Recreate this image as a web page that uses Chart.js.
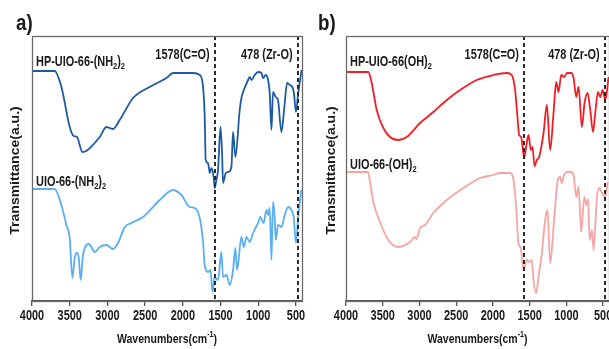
<!DOCTYPE html>
<html><head><meta charset="utf-8">
<script src="https://cdn.jsdelivr.net/npm/chart.js@4.4.1/dist/chart.umd.min.js"></script>
<style>
html,body{margin:0;padding:0;background:#fff;overflow:hidden;width:609px;height:349px;position:relative}
canvas{position:absolute;top:0}
#ca{left:0}
#cb{left:300px}
</style></head><body>
<canvas id="ca" width="330" height="349"></canvas>
<canvas id="cb" width="330" height="349"></canvas>
<script>
// ---- data ----
const tickValues = [4000, 3500, 3000, 2500, 2000, 1500, 1000, 500];
const markerWaves = [1578, 478];
const markerLabels = ['1578(C=O)', '478 (Zr-O)'];
const panelLetters = ['a)', 'b)'];
const xTitle = 'Wavenumbers(cm^{-1})';
const yTitle = 'Transmittance(a.u.)';
const seriesNamesA = ['HP-UIO-66-(NH_{2})_{2}', 'UIO-66-(NH_{2})_{2}'];
const seriesNamesB = ['HP-UIO-66(OH)_{2}', 'UIO-66-(OH)_{2}'];

const hpNH2Wave = [4000,3700,3610,3500,3447,3403,3332,3280,3102,3013,2970,2926,2837,2660,2440,2218,2130,1865,1776,1732,1710,1697,1666,1643,1620,1590,1577,1555,1533,1501,1480,1467,1431,1400,1356,1334,1303,1246,1223,1191,1135,1113,1090,1047,1003,958,936,900,870,848,825,804,768,738,693,649,618,584,548,527,500,470,425];
const hpNH2T    = [230,230,214,174,165,164,149,150,164,174,173,172,181,203,214,223,228,228,226,214,184,141,138,128,133,123,113,121,131,174,148,118,128,129,134,169,144,191,203,211,221,224,221,226,229,228,223,226,221,208,171,209,204,201,169,198,218,216,214,208,189,208,231];

const uioNH2Wave = [4000,3700,3610,3544,3500,3464,3434,3403,3380,3354,3324,3244,3168,3102,3013,2926,2859,2770,2682,2528,2306,2130,2019,1909,1843,1776,1732,1710,1666,1634,1607,1600,1577,1533,1489,1467,1422,1378,1334,1303,1281,1223,1191,1156,1113,1069,1003,972,930,891,870,848,825,804,782,768,738,693,649,605,561,530,500,470,430];
const uioNH2T    = [112,112,96,76,63,23,43,48,43,21,46,57,49,54,56,52,58,74,78,84,101,111,106,94,93,83,59,36,29,31,9,12,24,21,49,24,26,16,31,53,31,64,54,64,59,68,78,84,78,91,86,93,41,99,84,61,76,74,86,94,91,84,58,84,111];

const hpOHWave = [4000,3696,3650,3582,3492,3401,3288,3174,2992,2811,2628,2447,2220,1993,1812,1744,1698,1666,1643,1616,1594,1575,1548,1516,1484,1461,1434,1402,1371,1311,1266,1221,1175,1139,1107,1070,1029,993,934,902,866,834,789,753,711,675,638,607,570,539,507,470,425];
const hpOHT    = [229,229,218,191,173,164,161,164,178,189,201,211,221,226,228,226,211,184,166,164,153,143,154,166,151,154,135,141,144,168,196,151,188,219,209,226,224,228,228,223,204,214,174,198,208,191,169,188,209,204,211,201,224];

const uioOHWave = [4000,3700,3673,3628,3537,3424,3288,3128,3060,3040,2992,2924,2811,2628,2401,2174,1993,1902,1766,1720,1684,1653,1621,1584,1560,1539,1505,1471,1448,1411,1380,1334,1289,1257,1221,1185,1153,1117,1085,1062,1030,993,939,902,866,834,798,757,729,705,684,652,630,584,548,516,470,439];
const uioOHT    = [129,129,119,99,79,61,54,59,64,62,73,76,88,101,113,123,126,128,128,121,94,58,53,31,36,41,39,41,21,8,24,48,81,91,38,64,94,121,124,118,126,129,129,126,104,114,69,104,96,102,61,71,51,104,113,108,104,119];

// ---- helpers ----
const FAMILY = "'Liberation Sans',Arial,sans-serif";
const TEXT = '#1a1a1a';
const SQ = 0.78; // horizontal squeeze of the figure's lettering

function toPoints(w, t) { return w.map((x, i) => ({ x: x, y: t[i] })); }

function parseRich(s) {
  const parts = []; const re = /([_^])\{([^}]*)\}/g; let last = 0, m;
  while ((m = re.exec(s))) {
    if (m.index > last) parts.push({ t: s.slice(last, m.index), k: 0 });
    parts.push({ t: m[2], k: m[1] === '_' ? 1 : -1 });
    last = re.lastIndex;
  }
  if (last < s.length) parts.push({ t: s.slice(last), k: 0 });
  return parts;
}
// draws text with sub/superscripts; sx = horizontal scale, sy = vertical scale
function drawRich(ctx, s, x, y, size, align, sx, sy) {
  sx = sx || 1; sy = sy || 1;
  const parts = parseRich(s);
  const fs = p => p.k ? size * 0.68 : size;
  let w = 0;
  parts.forEach(p => { ctx.font = 'bold ' + fs(p) + 'px ' + FAMILY; p.w = ctx.measureText(p.t).width; w += p.w; });
  ctx.save();
  ctx.translate(x, y); ctx.scale(sx, sy);
  let cx = align === 'center' ? -w / 2 : align === 'right' ? -w : 0;
  ctx.textBaseline = 'middle'; ctx.textAlign = 'left'; ctx.fillStyle = TEXT;
  parts.forEach(p => {
    ctx.font = 'bold ' + fs(p) + 'px ' + FAMILY;
    ctx.fillText(p.t, cx, p.k * size * 0.32);
    cx += p.w;
  });
  ctx.restore();
}

function makePanel(id, series, names, nameYs, letter, letterX, yTitleX, areaLeft, areaRight) {
  const canvas = document.getElementById(id);
  const W = canvas.width;
  const decor = {
    id: 'decor',
    afterDatasetsDraw(chart) {
      const ctx = chart.ctx, a = chart.chartArea, xs = chart.scales.x;
      ctx.save();
      ctx.strokeStyle = '#2a2a2a'; ctx.lineWidth = 2; ctx.setLineDash([4, 3]);
      markerWaves.forEach(v => {
        const px = Math.round(xs.getPixelForValue(v));
        ctx.beginPath(); ctx.moveTo(px, a.top); ctx.lineTo(px, a.bottom); ctx.stroke();
      });
      ctx.setLineDash([]);
      ctx.strokeStyle = '#6a6a6a'; ctx.lineWidth = 1.3;
      ctx.strokeRect(Math.round(a.left) + 0.5, Math.round(a.top) + 0.5, Math.round(a.right - a.left), Math.round(a.bottom - a.top));
      ctx.restore();
    },
    afterDraw(chart) {
      const ctx = chart.ctx, a = chart.chartArea, xs = chart.scales.x;
      ctx.save();
      xs.ticks.forEach(t => drawRich(ctx, String(t.value), xs.getPixelForValue(t.value), a.bottom + 15, 14, 'center', SQ));
      markerWaves.forEach((v, i) => {
        drawRich(ctx, markerLabels[i], xs.getPixelForValue(v) - 5, 55, 14, 'right', SQ);
      });
      names.forEach((n, i) => drawRich(ctx, n, a.left + 4, nameYs[i], 14, 'left', SQ));
      drawRich(ctx, xTitle, (a.left + a.right) / 2, 339, 13.5, 'center', SQ);
      ctx.save(); ctx.translate(yTitleX, (a.top + a.bottom) / 2 + 2); ctx.rotate(-Math.PI / 2);
      drawRich(ctx, yTitle, 0, 0, 14, 'center', 1, 0.85); ctx.restore();
      drawRich(ctx, letter, letterX, 24, 22, 'left', 0.85);
      ctx.restore();
    }
  };
  return new Chart(canvas, {
    type: 'line',
    data: {
      datasets: series.map(s => ({
        data: toPoints(s.w, s.t), borderColor: s.color, borderWidth: 1.8,
        pointRadius: 0, fill: false, cubicInterpolationMode: 'monotone'
      }))
    },
    options: {
      responsive: false, animation: false, devicePixelRatio: 1,
      layout: { padding: { left: areaLeft, right: W - areaRight, top: 36, bottom: 0 } },
      plugins: { legend: { display: false }, tooltip: { enabled: false } },
      scales: {
        x: {
          type: 'linear', reverse: true, min: 420, max: 4000,
          afterBuildTicks: s => { s.ticks = tickValues.map(v => ({ value: v })); },
          afterFit: s => { s.height = 48; },
          grid: { display: true, drawOnChartArea: false, drawTicks: true, tickLength: 5, color: '#555', lineWidth: 1.3 },
          border: { display: true, color: '#555', width: 1.5 },
          ticks: { color: 'rgba(0,0,0,0)', font: { family: FAMILY, size: 13, weight: 'bold' }, padding: 3, maxRotation: 0, autoSkip: false }
        },
        y: { display: false, min: 0, max: 265 }
      }
    },
    plugins: [decor]
  });
}

makePanel('ca', [
  { w: hpNH2Wave, t: hpNH2T, color: '#1c5aa6' },
  { w: uioNH2Wave, t: uioNH2T, color: '#5aaef2' }
], seriesNamesA, [62, 182], panelLetters[0], 16, 16, 32, 302);

makePanel('cb', [
  { w: hpOHWave, t: hpOHT, color: '#f01e24' },
  { w: uioOHWave, t: uioOHT, color: '#f7a4a4' }
], seriesNamesB, [62, 165], panelLetters[1], 18, 32, 46, 309);
</script>
</body></html>
